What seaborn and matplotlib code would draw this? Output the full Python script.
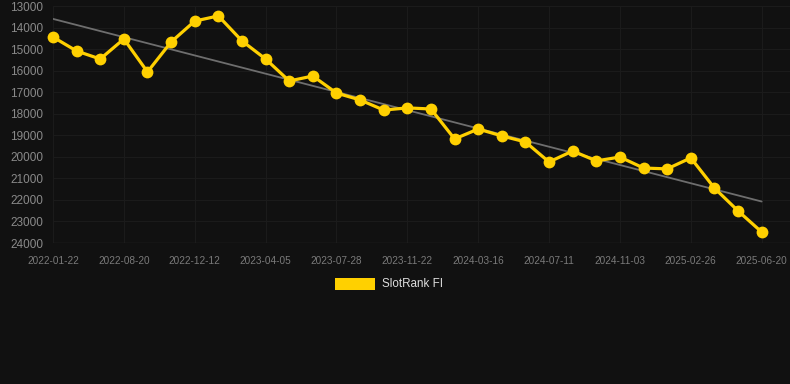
import matplotlib
matplotlib.use("Agg")
import matplotlib.pyplot as plt
import seaborn as sns
import numpy as np
import pandas as pd

tick_labels = ["2022-01-22", "2022-08-20", "2022-12-12", "2023-04-05", "2023-07-28",
               "2023-11-22", "2024-03-16", "2024-07-11", "2024-11-03", "2025-02-26",
               "2025-06-20"]
rank = [14440, 15090, 15460, 14530, 16060, 14670, 13700, 13460, 14620, 15460,
        16480, 16250, 17040, 17360, 17830, 17730, 17780, 19170, 18710, 19030,
        19310, 20240, 19730, 20190, 20010, 20520, 20560, 20050, 21450, 22510,
        23490]
series_name = "SlotRank FI"

idx = np.arange(len(rank))
df = pd.DataFrame({"idx": idx, "rank": rank})

sns.set_theme(style="dark")
plt.rcParams['font.family'] = ['Liberation Sans', 'DejaVu Sans']

bg = "#111111"
fig = plt.figure(figsize=(7.9, 3.84), dpi=100, facecolor=bg)
ax = fig.add_axes([53/790, 1-243/384, 1-53/790, (243-6)/384])
ax.set_facecolor(bg)

# trend line (linear fit)
coef = np.polyfit(idx, rank, 1)
trend = np.polyval(coef, idx)
ax.plot(idx, trend, color="#6e6e6e", lw=1.3, zorder=2)

sns.lineplot(data=df, x="idx", y="rank", ax=ax, color="#FFD000", lw=2.3,
             marker="o", markersize=8.5, markeredgewidth=0, zorder=3, legend=False,
             clip_on=False)

ax.set_ylim(24000, 13000)
ax.set_yticks(np.arange(13000, 24001, 1000))
ax.set_xlim(0, 31.2)
ax.set_xticks(idx[::3])
ax.set_xticklabels(tick_labels)
ax.set_xlabel("")
ax.set_ylabel("")
ax.grid(True, color="#1b1b1b", lw=0.8)
for s in ax.spines.values():
    s.set_visible(False)
ax.axhline(24000, color="#262626", lw=1, zorder=1)
ax.tick_params(axis="y", colors="#8a8a8a", labelsize=8.5, length=0, pad=7)
ax.tick_params(axis="x", colors="#262626", labelsize=7.2, length=3, width=0.8, pad=6)
for t in ax.get_xticklabels():
    t.set_color("#7a7a7a")
for t in ax.get_yticklabels():
    t.set_color("#8a8a8a")

# legend
from matplotlib.patches import Rectangle
fig.patches.append(Rectangle((335/790, 1-290/384), 40/790, 12/384,
                             transform=fig.transFigure, facecolor="#FFD000",
                             edgecolor="none"))
fig.text(382/790, 1-284/384, series_name, color="#dddddd", fontsize=8.4,
         va="center", ha="left")

fig.savefig("out.png", dpi=100, facecolor=bg)
